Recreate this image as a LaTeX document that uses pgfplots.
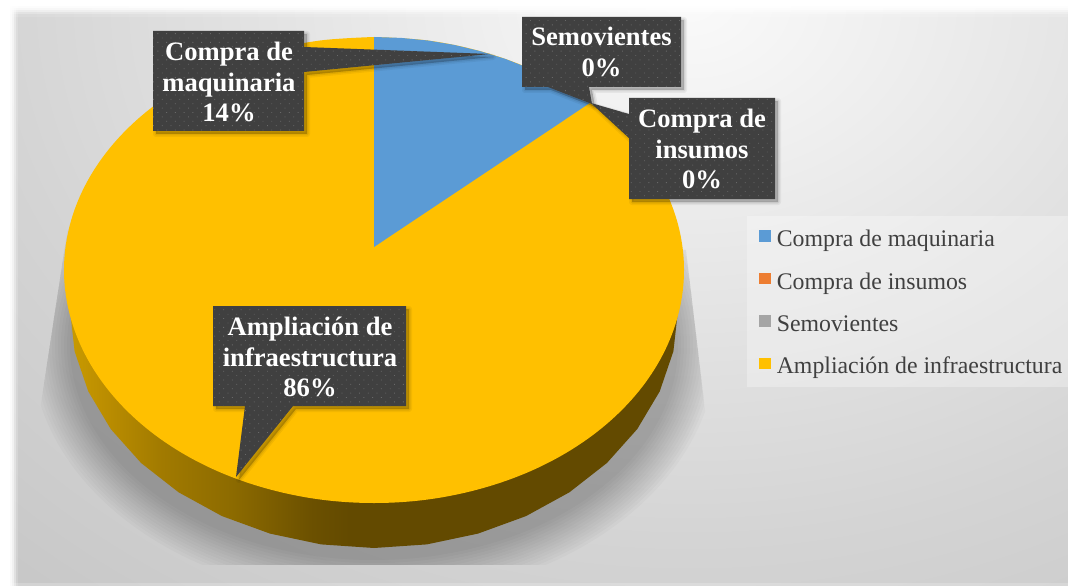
\documentclass[border=0pt]{standalone}
\usepackage{pgfplots}
\usepackage{pgfplotstable}
\usepackage{fontspec}
\setmainfont{Liberation Serif}
\pgfplotsset{compat=1.18}
\usetikzlibrary{patterns.meta}
\definecolor{cblue}{HTML}{5B9BD5}
\definecolor{corange}{HTML}{ED7D31}
\definecolor{cgray}{HTML}{A5A5A5}
\definecolor{cyellow}{HTML}{FFC000}
\definecolor{cbox}{HTML}{404040}
\definecolor{cdot}{HTML}{686868}
\definecolor{sA}{HTML}{C89A00}
\definecolor{sB}{HTML}{BD8F00}
\definecolor{sC}{HTML}{A17A00}
\definecolor{sD}{HTML}{8D6B00}
\definecolor{sE}{HTML}{6B5000}
\definecolor{sF}{HTML}{634A00}
\definecolor{bA}{HTML}{FAFAFA}
\definecolor{bB}{HTML}{E6E6E6}
\definecolor{bC}{HTML}{D4D4D4}
\definecolor{bD}{HTML}{C8C8C8}
\pgfdeclarehorizontalshading{sidegrad}{100bp}{color(0bp)=(sA); color(25bp)=(sA); color(27.5bp)=(sB); color(32.6bp)=(sC); color(38.2bp)=(sD); color(45bp)=(sE); color(48bp)=(sF); color(100bp)=(sF)}
\pgfdeclareradialshading{bggrad}{\pgfpointorigin}{color(0bp)=(bA); color(9.2bp)=(bB); color(17.5bp)=(bC); color(25bp)=(bD); color(50bp)=(bD)}

\pgfplotstableread{
x y
374 37
427.8 40.5
480 51.1
529 68.2
573.3 91.5
611.5 120.2
642.5 153.5
665.3 190.3
679.3 229.6
684 270
679.3 310.4
665.3 349.7
642.5 386.5
611.5 419.8
573.3 448.5
529 471.8
480 488.9
427.8 499.5
374 503
320.2 499.5
268 488.9
219 471.8
174.7 448.5
136.5 419.8
105.5 386.5
82.7 349.7
68.7 310.4
64 270
68.7 229.6
82.7 190.3
105.5 153.5
136.5 120.2
174.7 91.5
219 68.2
268 51.1
320.2 40.5
374 37
}\topellipse
\pgfplotstableread{
x y
374 247
374 37
401 37.9
427.8 40.5
454.2 44.9
480 51.1
505 58.8
529 68.2
551.8 79.1
573.3 91.5
590 102.9
374 247
}\blueslice
\pgfplotstableread{
x y
70 310
74.6 351.3
88.3 391.4
110.7 429
141.1 463
178.6 492.3
222 516.1
270 533.6
321.2 544.4
374 548
426.8 544.4
478 533.6
526 516.1
569.4 492.3
606.9 463
637.3 429
659.7 391.4
673.4 351.3
678 310
}\sideedge
\pgfplotstableread{
x y
153 31
304 31
304 47
490 54
304 72
304 131
153 131
153 31
}\calloutA
\pgfplotstableread{
x y
522 17
681 17
681 87
589 87
592 104
548 87
522 87
522 17
}\calloutB
\pgfplotstableread{
x y
629 98
775 98
775 199
629 199
629 138
591 103
629 114
629 98
}\calloutC
\pgfplotstableread{
x y
213 306
406 306
406 406
293 406
236 477
245 406
213 406
213 306
}\calloutD

\newcommand\callout[1]{%
  \addplot[forget plot, draw=black, draw opacity=.05, line width=6pt, line join=round, shift={(3pt,-3pt)}] table {#1};
  \addplot[forget plot, draw=black, draw opacity=.07, line width=3pt, line join=round, fill=black, fill opacity=.22, shift={(3pt,-3pt)}] table {#1};
  \addplot[forget plot, draw=none, fill=cbox] table {#1};
  \addplot[forget plot, draw=none, pattern={Dots[radius=.6pt,distance=6.2pt,angle=45]}, pattern color=cdot] table {#1};
}

\begin{document}
\begin{tikzpicture}
\useasboundingbox (0,0) rectangle (1068pt,586pt);
\begin{scope}
  \clip (0,0) rectangle (1068pt,586pt);
  \fill[bD] (0,0) rectangle (1068pt,586pt);
  \shade[shading=bggrad] (690pt,586pt) ellipse (1000pt and 770pt);
  % blurred white edges of the panel
  \foreach \a/\w in {1/10,.75/12,.55/14,.35/16,.18/18}{
    \fill[white,opacity=\a] (0,0) rectangle (\w pt,586pt);
  }
  \foreach \a/\w in {1/6,.8/8,.6/10,.4/12,.25/14,.12/17}{
    \fill[white,opacity=\a] (0,586pt-\w pt) rectangle (1068pt,586pt);
  }
  \fill[white,opacity=.2] (0,0) rectangle (1068pt,2.5pt);
\end{scope}
% soft shadow below the pie, cut by its perspective frame
\begin{scope}
  \clip (72pt,386pt) -- (40pt,176pt) -- (40pt,21pt) -- (705pt,21pt) -- (705pt,176pt) -- (686pt,336pt) -- cycle;
  \foreach \i in {0,...,13}{
    \fill[black,opacity=.018] (374pt,241pt) ellipse ({304pt+\i*3pt} and {215pt+\i*3pt});
  }
\end{scope}
\begin{axis}[
  at={(0,0)}, anchor=south west,
  scale only axis, width=1068pt, height=586pt,
  xmin=0, xmax=1068, ymin=0, ymax=586, y dir=reverse,
  axis lines=none, clip=false,
  legend image code/.code={\fill[#1,draw=none,fill opacity=1] (0pt,-3.8pt) rectangle (11.6pt,7.8pt);},
  legend cell align=left,
  legend style={
    at={(axis cs:747,216)}, anchor=north west,
    draw=none, fill=white, fill opacity=.3, text opacity=1,
    font=\fontsize{23.8}{26}\selectfont, text=cbox,
    inner xsep=12pt, inner ysep=10pt,
    row sep=18.4pt,
    nodes={text height=19.5pt, text depth=2.5pt, inner sep=1pt},
    /tikz/every odd column/.append style={column sep=5pt},
  },
]
\addplot[forget plot, draw=none, shade, shading=sidegrad] table {\sideedge};
\addplot[forget plot, draw=none, fill=cyellow, smooth, tension=.6] table {\topellipse};
\addplot[forget plot, draw=none, fill=cblue] table {\blueslice};
\callout{\calloutA}
\callout{\calloutB}
\callout{\calloutC}
\callout{\calloutD}
\node[align=center, text=white, font=\fontsize{26.6}{30.5}\selectfont\bfseries] at (axis cs:229,82) {Compra de\\maquinaria\\14\%};
\node[align=center, text=white, font=\fontsize{26.6}{30.5}\selectfont\bfseries] at (axis cs:601.5,52) {Semovientes\\0\%};
\node[align=center, text=white, font=\fontsize{26.6}{30.5}\selectfont\bfseries] at (axis cs:702,149) {Compra de\\insumos\\0\%};
\node[align=center, text=white, font=\fontsize{26.6}{30.5}\selectfont\bfseries] at (axis cs:310,357) {Ampliación de\\infraestructura\\86\%};
\addlegendimage{fill=cblue}
\addlegendentry{Compra de maquinaria}
\addlegendimage{fill=corange}
\addlegendentry{Compra de insumos}
\addlegendimage{fill=cgray}
\addlegendentry{Semovientes}
\addlegendimage{fill=cyellow}
\addlegendentry{Ampliación de infraestructura}
\end{axis}
\end{tikzpicture}
\end{document}
